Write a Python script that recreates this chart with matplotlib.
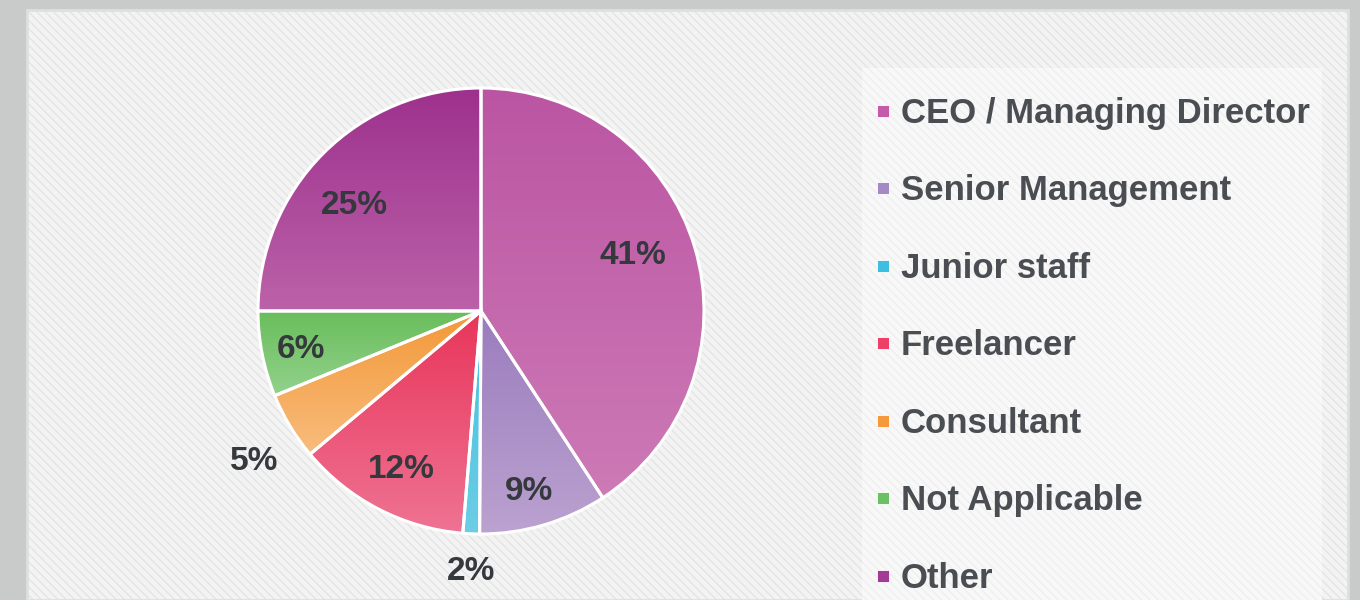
import numpy as np
import matplotlib
matplotlib.use("Agg")
import matplotlib.pyplot as plt
from matplotlib.patches import Rectangle
from matplotlib.lines import Line2D
from matplotlib.colors import LinearSegmentedColormap

plt.rcParams['font.family'] = ['Liberation Sans', 'DejaVu Sans']
plt.rcParams['hatch.linewidth'] = 0.9

categories = ['CEO / Managing Director', 'Senior Management', 'Junior staff',
              'Freelancer', 'Consultant', 'Not Applicable', 'Other']
# slice sizes as measured from the angles in the picture
shares = [40.8, 9.3, 1.2, 12.6, 4.9, 6.2, 25.0]
pct_labels = ['41%', '9%', '2%', '12%', '5%', '6%', '25%']
# gradient top / bottom per slice
top_cols = ['#bb55a3', '#9a7cbd', '#45c0df', '#e8355a', '#f39838', '#69bd5b', '#9d318d']
bot_cols = ['#cd7ab6', '#bba2d0', '#6ccde6', '#ef7393', '#f8bc7d', '#93d28d', '#bc62a9']
legend_cols = ['#c45aa8', '#a38ac4', '#3fbfe0', '#ee4066', '#f6993a', '#6cc064', '#a23a96']
label_dist = [0.725, 0.838, 1.168, 0.796, 1.221, 0.825, 0.739]
label_nudge = [3.5, -1.6, 0.3, 0.8, 2.5, 0.8, 5.4]  # degrees

W, H = 1360, 600
fig = plt.figure(figsize=(13.6, 6), dpi=100)
fig.patch.set_facecolor('#c9cbca')

# hatched panel
panel = Rectangle((27 / W, 0), (1348 - 27) / W, (600 - 10) / H, transform=fig.transFigure,
                  facecolor='#f3f3f3', edgecolor='#e2e3e3', hatch='\\\\\\\\', lw=0, zorder=-3)
fig.patches.append(panel)
fig.patches.append(Rectangle((27 / W, 0), (1348 - 27) / W, (600 - 10) / H, transform=fig.transFigure,
                             fill=False, edgecolor='#dedfdf', lw=2, zorder=-2))
# legend box
lbox = Rectangle((862 / W, 0), (1322 - 862) / W, (600 - 68) / H, transform=fig.transFigure,
                 facecolor='#f8f8f8', edgecolor='#eeeeee', hatch='\\\\\\\\', lw=0, zorder=-2)
fig.patches.append(lbox)

R = 223
cx, cy = 481, 600 - 311
ax = fig.add_axes([(cx - R) / W, (cy - R) / H, 2 * R / W, 2 * R / H])
ax.set_facecolor('none')

wedges, _ = ax.pie(shares, startangle=90, counterclock=False, radius=1,
                   wedgeprops=dict(facecolor='none', edgecolor='white', linewidth=2.2))

for w, c0, c1 in zip(wedges, top_cols, bot_cols):
    w.set_zorder(3)
    ext = w.get_path().get_extents()
    cmap = LinearSegmentedColormap.from_list('g', [c1, c0])
    grad = np.linspace(0, 1, 256).reshape(-1, 1)
    im = ax.imshow(grad, cmap=cmap, origin='lower', aspect='auto',
                   extent=[ext.x0, ext.x1, ext.y0, ext.y1], zorder=2, interpolation='bilinear')
    im.set_clip_path(w)

for w, lab, d, nd in zip(wedges, pct_labels, label_dist, label_nudge):
    mid = np.deg2rad((w.theta1 + w.theta2) / 2 + nd)
    ax.text(d * np.cos(mid), d * np.sin(mid), lab, ha='center', va='center',
            fontsize=24, fontweight='bold', color='#35383c', zorder=5)

ax.set_xlim(-1, 1)
ax.set_ylim(-1, 1)
ax.set_aspect('equal')
ax.axis('off')

handles = [Line2D([], [], marker='s', linestyle='none', markersize=8,
                  markerfacecolor=c, markeredgecolor='white', markeredgewidth=0.6)
           for c in legend_cols]
leg = fig.legend(handles, categories, loc='upper left', bbox_to_anchor=(873 / W, 1 - 97 / H),
                 frameon=False, handlelength=0.55, handletextpad=0.25, borderpad=0,
                 borderaxespad=0, labelspacing=1.28, prop=dict(size=25, weight='bold'))
for t in leg.get_texts():
    t.set_color('#4a4d51')

fig.savefig('out.png', dpi=100, facecolor=fig.get_facecolor())
